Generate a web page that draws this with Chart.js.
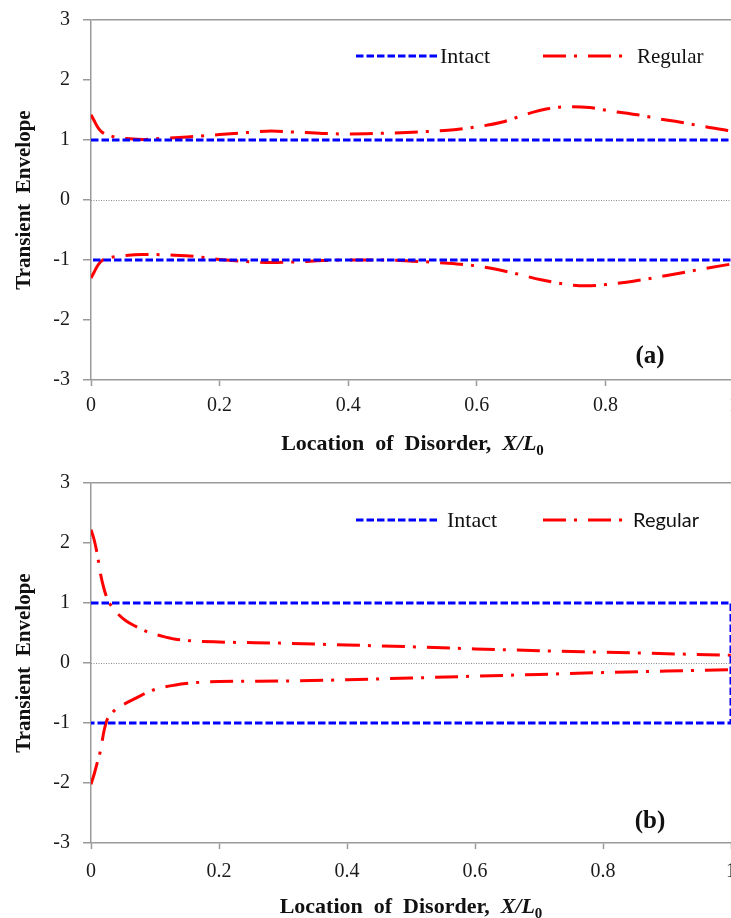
<!DOCTYPE html>
<html>
<head>
<meta charset="utf-8">
<script src="https://cdn.jsdelivr.net/npm/chart.js@4/dist/chart.umd.min.js"></script>
<style>
  html, body { margin: 0; padding: 0; background: #fff; overflow: hidden; }
  #page { position: relative; width: 731px; height: 918px; overflow: hidden; background: #fff; }
  .panel { position: absolute; left: 0; width: 760px; }
  #panelA { top: 0; height: 462px; }
  #panelB { top: 462px; height: 456px; }
</style>
</head>
<body>
<div id="page">
  <div class="panel" id="panelA"><canvas id="chartA" width="760" height="462"></canvas></div>
  <div class="panel" id="panelB"><canvas id="chartB" width="760" height="456"></canvas></div>
</div>
<script>
// Axis ticks
const xTicks = [0, 0.2, 0.4, 0.6, 0.8, 1];
const yTicks = [-3, -2, -1, 0, 1, 2, 3];

// Intact beam: constant envelope of +1 / -1
const intactX = [0, 1, 1, 0];
const intactY = [1, 1, -1, -1];

// Panel (a): regular disorder, upper and lower envelopes
const upperXA = [0, 0.005, 0.01, 0.015, 0.02, 0.03, 0.04, 0.06, 0.08, 0.1, 0.15, 0.2, 0.25, 0.28, 0.32, 0.36, 0.4, 0.45, 0.5, 0.55, 0.6, 0.64, 0.68, 0.71, 0.745, 0.775, 0.81, 0.85, 0.885, 0.915, 0.95, 0.99, 1.0];
const upperYA = [1.42, 1.32, 1.22, 1.15, 1.11, 1.07, 1.04, 1.02, 1.01, 1.02, 1.05, 1.09, 1.13, 1.15, 1.13, 1.11, 1.10, 1.11, 1.13, 1.16, 1.22, 1.30, 1.44, 1.52, 1.555, 1.54, 1.48, 1.42, 1.35, 1.30, 1.23, 1.16, 1.14];
const lowerXA = [0, 0.005, 0.01, 0.015, 0.02, 0.03, 0.05, 0.08, 0.1, 0.13, 0.16, 0.2, 0.25, 0.28, 0.32, 0.36, 0.4, 0.45, 0.5, 0.55, 0.6, 0.65, 0.7, 0.75, 0.77, 0.8, 0.85, 0.9, 0.95, 1.0];
const lowerYA = [-1.3, -1.2, -1.1, -1.03, -0.99, -0.96, -0.93, -0.91, -0.91, -0.92, -0.94, -0.99, -1.03, -1.04, -1.03, -1.01, -1.0, -1.0, -1.02, -1.05, -1.1, -1.2, -1.33, -1.42, -1.43, -1.41, -1.34, -1.25, -1.15, -1.06];

// Panel (b): regular disorder, upper and lower envelopes
const upperXB = [0, 0.005, 0.01, 0.015, 0.02, 0.025, 0.03, 0.04, 0.055, 0.07, 0.09, 0.11, 0.13, 0.155, 0.2, 0.3, 0.4, 0.5, 0.6, 0.7, 0.8, 0.9, 1.0];
const upperYB = [2.22, 2.05, 1.8, 1.48, 1.25, 1.08, 0.98, 0.84, 0.7, 0.61, 0.51, 0.45, 0.4, 0.37, 0.35, 0.33, 0.3, 0.27, 0.235, 0.205, 0.18, 0.155, 0.13];
const lowerXB = [0, 0.005, 0.01, 0.015, 0.02, 0.025, 0.03, 0.04, 0.06, 0.08, 0.1, 0.13, 0.16, 0.2, 0.3, 0.4, 0.5, 0.6, 0.7, 0.8, 0.9, 1.0];
const lowerYB = [-2.02, -1.85, -1.65, -1.45, -1.15, -0.95, -0.87, -0.76, -0.64, -0.53, -0.44, -0.37, -0.33, -0.31, -0.3, -0.28, -0.25, -0.22, -0.19, -0.16, -0.135, -0.11];

const toPoints = (xs, ys) => xs.map((x, i) => ({ x, y: ys[i] }));

const BLUE = '#0000ff';
const RED = '#ff0000';
const AXIS = '#9a9a9a';
const SERIF = '"Liberation Serif", "Times New Roman", serif';
const INTACT_DASH = [7.5, 3];
const REGULAR_DASH = [23, 8, 3, 11];

// Dotted zero reference line
const zeroLine = {
  id: 'zeroLine',
  beforeDatasetsDraw(chart) {
    const { ctx, chartArea, scales } = chart;
    const y = Math.round(scales.y.getPixelForValue(0)) + 0.5;
    ctx.save();
    ctx.strokeStyle = '#8a8a8a';
    ctx.lineWidth = 1;
    ctx.setLineDash([1, 1.5]);
    ctx.beginPath();
    ctx.moveTo(chartArea.left, y);
    ctx.lineTo(chartArea.right, y);
    ctx.stroke();
    ctx.restore();
  }
};

// Legend, x-axis title with italic symbol and subscript, panel tag
const annotations = {
  id: 'annotations',
  afterDraw(chart, args, opts) {
    const { ctx, chartArea } = chart;
    ctx.save();
    // legend
    const ly = chartArea.top + opts.legendDy;
    opts.legend.forEach(item => {
      const ds = chart.data.datasets[item.dataset];
      ctx.strokeStyle = ds.borderColor;
      ctx.lineWidth = ds.borderWidth;
      ctx.setLineDash(ds.borderDash || []);
      ctx.beginPath();
      ctx.moveTo(chartArea.left + item.x0, ly);
      ctx.lineTo(chartArea.left + item.x1, ly);
      ctx.stroke();
      ctx.setLineDash([]);
      ctx.fillStyle = '#111';
      ctx.font = item.font;
      ctx.textAlign = 'left';
      ctx.textBaseline = 'middle';
      ctx.fillText(item.text, chartArea.left + item.tx, ly + 1);
    });
    // panel tag
    ctx.font = 'bold 25px ' + SERIF;
    ctx.textAlign = 'center';
    ctx.textBaseline = 'middle';
    ctx.fillStyle = '#111';
    ctx.fillText(opts.tag, chartArea.left + 559, chartArea.bottom + opts.tagDy);
    // x-axis title
    const parts = [
      { t: 'Location  of  Disorder,  ', f: 'bold 22px ' + SERIF, dy: 0 },
      { t: 'X/L', f: 'italic bold 22px ' + SERIF, dy: 0 },
      { t: '0', f: 'bold 15px ' + SERIF, dy: 5 }
    ];
    let total = 0;
    parts.forEach(p => { ctx.font = p.f; p.w = ctx.measureText(p.t).width; total += p.w; });
    let x = (chartArea.left + chartArea.right) / 2 - total / 2;
    const base = chartArea.bottom + opts.titleDy;
    ctx.textAlign = 'left';
    ctx.textBaseline = 'alphabetic';
    parts.forEach(p => { ctx.font = p.f; ctx.fillText(p.t, x, base + p.dy); x += p.w; });
    ctx.restore();
  }
};

function makePanel(canvasId, upper, lower, cfg) {
  return new Chart(document.getElementById(canvasId), {
    type: 'line',
    data: {
      datasets: [
        { label: 'Intact', data: toPoints(intactX, intactY), borderColor: BLUE, borderWidth: 3,
          borderDash: INTACT_DASH, pointRadius: 0, tension: 0, fill: false },
        { label: 'Regular', data: upper, borderColor: RED, borderWidth: 3,
          borderDash: REGULAR_DASH, pointRadius: 0, cubicInterpolationMode: 'monotone', fill: false },
        { label: 'Regular (lower)', data: lower, borderColor: RED, borderWidth: 3,
          borderDash: REGULAR_DASH, pointRadius: 0, cubicInterpolationMode: 'monotone', fill: false }
      ]
    },
    options: {
      responsive: false,
      animation: false,
      layout: { padding: { left: 0, top: cfg.top, right: cfg.right, bottom: 0 } },
      plugins: {
        legend: { display: false },
        tooltip: { enabled: false },
        annotations: cfg.ann
      },
      scales: {
        x: {
          type: 'linear', min: 0, max: 1,
          afterBuildTicks: s => { s.ticks = xTicks.map(v => ({ value: v })); },
          afterFit: s => { s.height = cfg.xHeight; },
          ticks: {
            autoSkip: false, maxRotation: 0, padding: cfg.xPad, color: '#1a1a1a',
            font: { family: SERIF, size: 20 },
            callback: v => String(Math.round(v * 10) / 10)
          },
          grid: { drawOnChartArea: false, drawTicks: true, tickLength: 6, tickColor: AXIS, tickWidth: 1.5 },
          border: { color: AXIS, width: 1.5 }
        },
        y: {
          min: -3, max: 3,
          afterBuildTicks: s => { s.ticks = yTicks.map(v => ({ value: v })); },
          afterFit: s => { s.width = 91; s.paddingTop = 0; s.paddingBottom = 0; },
          ticks: { padding: 13, color: '#1a1a1a', font: { family: SERIF, size: 20 } },
          grid: {
            drawOnChartArea: true, tickLength: 8, tickColor: AXIS, tickWidth: 1.5, lineWidth: 1.5,
            color: c => (c.tick && c.tick.value === 3) ? AXIS : 'rgba(0,0,0,0)'
          },
          border: { color: AXIS, width: 1.5 },
          title: {
            display: true, text: 'Transient  Envelope', color: '#111',
            font: { family: SERIF, size: 21, weight: 'bold' }, padding: { top: 12, bottom: 0 }
          }
        }
      }
    },
    plugins: [zeroLine, annotations]
  });
}

makePanel('chartA', toPoints(upperXA, upperYA), toPoints(lowerXA, lowerYA), {
  top: 20, right: 26, xHeight: 82, xPad: 8,
  ann: {
    tag: '(a)', tagDy: -23, legendDy: 36, titleDy: 70,
    legend: [
      { dataset: 0, x0: 265, x1: 349, tx: 349, text: 'Intact', font: '22px ' + SERIF },
      { dataset: 1, x0: 452, x1: 532, tx: 546, text: 'Regular', font: '21px ' + SERIF }
    ]
  }
});

makePanel('chartB', toPoints(upperXB, upperYB), toPoints(lowerXB, lowerYB), {
  top: 21, right: 29, xHeight: 75, xPad: 11,
  ann: {
    tag: '(b)', tagDy: -21, legendDy: 37, titleDy: 70,
    legend: [
      { dataset: 0, x0: 265, x1: 349, tx: 356, text: 'Intact', font: '22px ' + SERIF },
      { dataset: 1, x0: 452, x1: 532, tx: 542, text: 'Regular', font: '20px Lato, "Open Sans", sans-serif' }
    ]
  }
});
</script>
</body>
</html>
